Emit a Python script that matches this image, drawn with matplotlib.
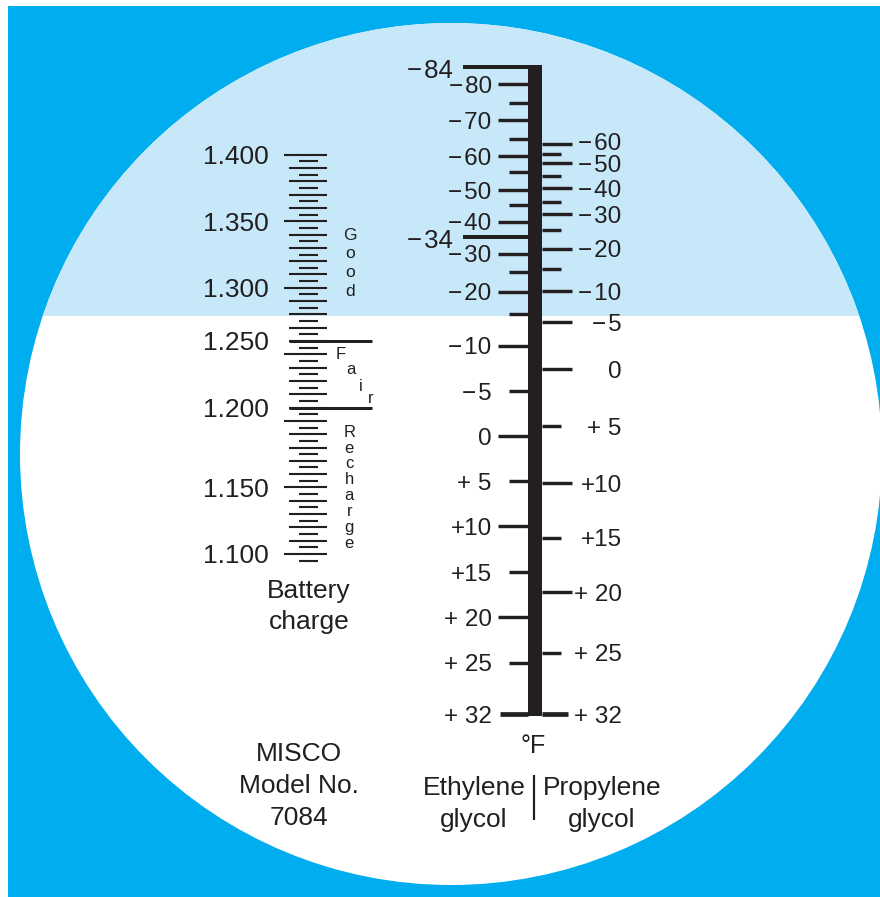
import matplotlib
matplotlib.use('Agg')
import matplotlib.pyplot as plt
from matplotlib.patches import Circle, Rectangle
import numpy as np

plt.rcParams['font.family'] = ['Liberation Sans', 'DejaVu Sans']

# Battery charge scale (specific gravity): 62 graduations, labels on given graduation
battery_labels = ['1.400', '1.350', '1.300', '1.250', '1.200', '1.150', '1.100']
battery_label_tick = [0, 10, 20, 28, 38, 50, 60]
battery_n_ticks = 62
zone_bounds_tick = [28, 38]          # Good | Fair | Recharge

# Ethylene glycol freeze point (deg F) vs reticle reading
eg_deg = [-84, -80, -75, -70, -65, -60, -55, -50, -45, -40, -34, -30, -25,
          -20, -15, -10, -5, 0, 5, 10, 15, 20, 25, 32]
eg_read = [67.3, 84, 102.7, 120.3, 139.3, 156, 172, 190.3, 205, 221.7, 236.7,
           253.7, 272.3, 291.7, 314.5, 345.7, 391, 436, 481.3, 526, 572, 617.3,
           662.7, 714.3]
eg_label_deg = [-84, -80, -70, -60, -50, -40, -34, -30, -20, -10, -5, 0, 5,
                10, 15, 20, 25, 32]
eg_label_txt = ['−\u200a84', '−\u200a80', '−\u200a70', '−\u200a60', '−\u200a50',
                '−\u200a40', '−\u200a34', '−\u200a30', '−\u200a20', '−\u200a10',
                '−\u200a5', '0', '+ 5', '+10', '+15', '+ 20', '+ 25', '+ 32']

# Propylene glycol freeze point (deg F) vs reticle reading
pg_deg = [-60, -55, -50, -45, -40, -35, -30, -25, -20, -15, -10, -5, 0, 5,
          10, 15, 20, 25, 32]
pg_read = [144.3, 154.3, 163.3, 176, 188.3, 201.7, 214.3, 229.7, 248.7, 269.3,
           291, 322.3, 369, 426.3, 483, 537.7, 592.3, 652.7, 714.3]
pg_label_deg = [-60, -50, -40, -30, -20, -10, -5, 0, 5, 10, 15, 20, 25, 32]
pg_label_txt = ['−\u200a60', '−\u200a50', '−\u200a40', '−\u200a30', '−\u200a20',
                '−\u200a10', '−\u200a5', '0', '+ 5', '+10', '+15', '+ 20',
                '+ 25', '+ 32']

INK = '#231f20'
BLUE = '#00aeef'
LIGHT = '#c6e8f8'
PX = 72 / 100  # points per pixel


def num(ax, x, y, s, size, ha='right'):
    # put the digits' vertical middle on y (cap height ~0.716 em)
    ax.text(x, y + 0.358 * size / PX, s, fontsize=size, ha=ha, va='baseline', color=INK)


def word(ax, x, y, s, size=19):
    ax.text(x, y, s, fontsize=size, ha='center', va='baseline', color=INK)


fig = plt.figure(figsize=(8.8, 8.97), dpi=100)
ax = fig.add_axes([0, 0, 1, 1])
ax.set_xlim(0, 880)
ax.set_ylim(897, 0)
ax.axis('off')

# background and field of view
ax.add_patch(Rectangle((8, 6), 872, 891, color=BLUE, lw=0))
field = Circle((451, 454), 431, color='white', lw=0)
ax.add_patch(field)
shade = Rectangle((0, 0), 880, 315.7, color=LIGHT, lw=0)
ax.add_patch(shade)
shade.set_clip_path(field)

# ---- battery scale ----
b_top, b_step = 154.7, 6.655
b_idx = np.arange(battery_n_ticks)
b_y = b_top + b_idx * b_step
for i, y in zip(b_idx, b_y):
    if i % 10 == 0:
        x0, x1 = 284.3, 326.7
    elif i % 2 == 0:
        x0, x1 = 289.3, 326.7
    else:
        x0, x1 = 299.3, 317.7
    ax.hlines(y, x0, x1, color=INK, lw=2.1 * PX)
for t in zone_bounds_tick:
    ax.hlines(b_top + t * b_step, 289.3, 372, color=INK, lw=3 * PX)
for lab, t in zip(battery_labels, battery_label_tick):
    num(ax, 269, b_top + t * b_step, lab, 19)

# zone letters
for ch, yb in zip('Good', np.linspace(239.5, 295.5, 4)):
    ax.text(350, yb, ch, fontsize=12.5, ha='center', va='baseline', color=INK)
for ch, xc, yb in zip('Fair', np.linspace(340.5, 370.5, 4), [359, 374.3, 391, 403]):
    ax.text(xc, yb, ch, fontsize=12, ha='center', va='baseline', color=INK)
for ch, yb in zip('Recharge', np.linspace(436.7, 548, 8)):
    ax.text(349.3, yb, ch, fontsize=12, ha='center', va='baseline', color=INK)

word(ax, 309, 598.3, 'Battery')
word(ax, 309, 629.3, 'charge')

word(ax, 299, 760.7, 'MISCO')
word(ax, 299, 793.3, 'Model No.')
word(ax, 299, 825, '7084')

# ---- glycol scales ----
bar_l, bar_r = 528.3, 541.7
ax.add_patch(Rectangle((bar_l, eg_read[0] - 1.8), bar_r - bar_l,
                       eg_read[-1] - eg_read[0] + 3.8, color=INK, lw=0))

for v, y in zip(eg_deg, eg_read):
    if v in (-84, -34):
        x0, w = 463.3, 4
    elif v == 32:
        x0, w = 500, 4.7
    elif v % 10 == 0:
        x0, w = 498.3, 3.4
    else:
        x0, w = 509.3, 3.4
    ax.hlines(y, x0, bar_l, color=INK, lw=w * PX)
for v, s in zip(eg_label_deg, eg_label_txt):
    y = eg_read[eg_deg.index(v)]
    if v in (-84, -34):
        num(ax, 453.3, y + 2, s, 18.5)
    else:
        num(ax, 491.7, y, s, 17.5)

for v, y in zip(pg_deg, pg_read):
    if v == 32:
        x1, w = 568.3, 4.7
    elif v % 10 == 0 or v in (-5, 0):
        x1, w = 571.7, 3.4
    else:
        x1, w = 561.3, 3.4
    ax.hlines(y, bar_r, x1, color=INK, lw=w * PX)
for v, s in zip(pg_label_deg, pg_label_txt):
    y = pg_read[pg_deg.index(v)]
    if v == -60:
        y -= 3  # label sits a little above its line to clear -50
    num(ax, 621.7, y, s, 17.5)

word(ax, 533, 753.3, '°F', 18)
word(ax, 474, 795, 'Ethylene')
word(ax, 474, 826.7, 'glycol')
word(ax, 601.7, 795, 'Propylene')
word(ax, 601.7, 826.7, 'glycol')
ax.vlines(533.5, 775, 820, color=INK, lw=2.2 * PX)

fig.savefig('out.png', dpi=100, facecolor='white')
